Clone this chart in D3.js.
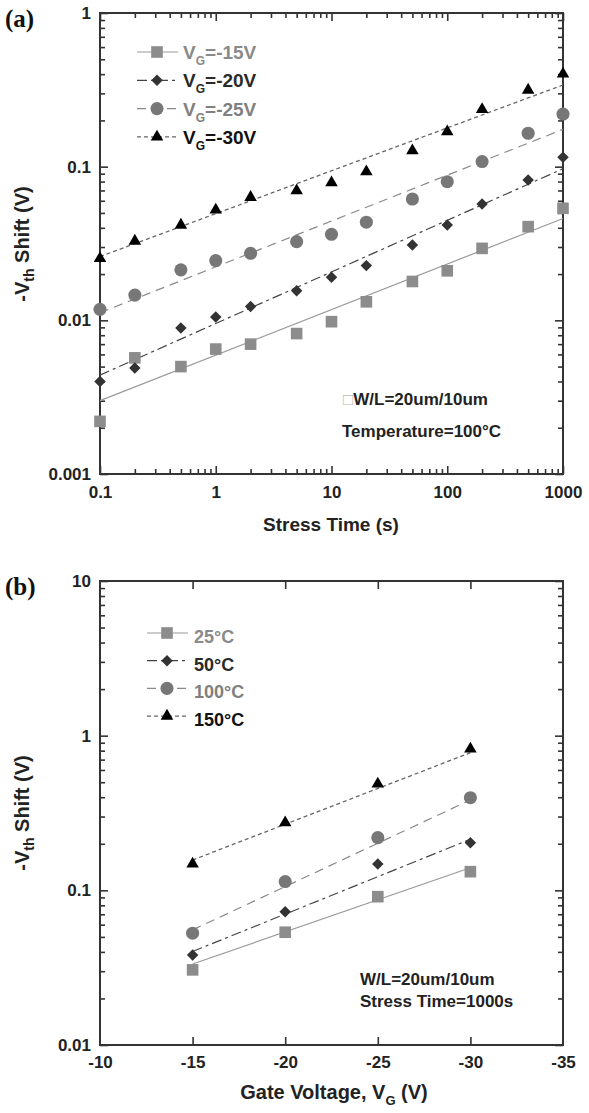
<!DOCTYPE html>
<html>
<head>
<meta charset="utf-8">
<script src="https://cdn.jsdelivr.net/npm/d3@7"></script>
<style>
  body { margin: 0; background: #fff; }
  svg { display: block; }
  text { font-family: "Liberation Sans", Arial, sans-serif; font-weight: bold; }
  .tick text { font-size: 17px; fill: #222; }
  .tick line { stroke: #333; stroke-width: 1.6; }
</style>
</head>
<body>
<div id="chart"></div>
<script>
// ---------------------------------------------------------------
// data, panel (a): -Vth shift vs stress time, T = 100 C
const stressTime = [0.1, 0.2, 0.5, 1, 2, 5, 10, 20, 50, 100, 200, 500, 1000];
const shiftVg15 = [0.0022, 0.0057, 0.0050, 0.0065, 0.0070, 0.0082, 0.0098, 0.0132, 0.0179, 0.021, 0.0294, 0.0407, 0.0536];
const shiftVg20 = [0.0040, 0.0049, 0.0089, 0.0105, 0.0123, 0.0156, 0.0191, 0.0227, 0.0309, 0.0417, 0.0572, 0.0819, 0.115];
const shiftVg25 = [0.0118, 0.0146, 0.0213, 0.0245, 0.0273, 0.0325, 0.0363, 0.0435, 0.0616, 0.0798, 0.108, 0.165, 0.220];
const shiftVg30 = [0.0253, 0.0328, 0.0417, 0.0523, 0.0632, 0.0698, 0.0787, 0.0927, 0.127, 0.169, 0.236, 0.315, 0.401];
// power-law fit lines, value at first and last stress time
const fitTime = [0.1, 1000];
const fitVg15 = [0.0030, 0.046];
const fitVg20 = [0.0044, 0.097];
const fitVg25 = [0.0112, 0.175];
const fitVg30 = [0.0260, 0.340];

// data, panel (b): -Vth shift vs gate voltage, stress 1000 s
const gateVoltage = [-15, -20, -25, -30];
const shiftT25 = [0.0306, 0.0536, 0.091, 0.132];
const shiftT50 = [0.0382, 0.0728, 0.148, 0.203];
const shiftT100 = [0.0528, 0.114, 0.219, 0.397];
const shiftT150 = [0.148, 0.274, 0.487, 0.82];
// exponential fit lines, value at -15 V and -30 V
const fitGate = [-15, -30];
const fitT25 = [0.0334, 0.140];
const fitT50 = [0.0402, 0.214];
const fitT100 = [0.0555, 0.384];
const fitT150 = [0.157, 0.776];

const legendA = ["-15V", "-20V", "-25V", "-30V"];
const legendB = ["25°C", "50°C", "100°C", "150°C"];

const xTicksA = [0.1, 1, 10, 100, 1000];
const yTicksA = [0.001, 0.01, 0.1, 1];
const xTicksB = [-10, -15, -20, -25, -30, -35];
const yTicksB = [0.01, 0.1, 1, 10];

// ---------------------------------------------------------------
// series styling (shared by both panels)
const styles = [
  { shape: "square",   fill: "#8c8c8c", text: "#8a8a8a", stroke: "#9a9a9a", dash: null,        width: 1.2 },
  { shape: "diamond",  fill: "#333333", text: "#2a2a2a", stroke: "#444444", dash: "10,4,3,4",  width: 1.2 },
  { shape: "circle",   fill: "#777777", text: "#808080", stroke: "#8a8a8a", dash: "9,6",       width: 1.2 },
  { shape: "triangle", fill: "#000000", text: "#111111", stroke: "#666666", dash: "4,3",       width: 1.3 }
];

function markerPath(shape) {
  if (shape === "square") return d3.symbol(d3.symbolSquare, 135)();
  if (shape === "diamond") return d3.symbol(d3.symbolSquare, 66)();
  if (shape === "circle") return d3.symbol(d3.symbolCircle, 135)();
  return d3.symbol(d3.symbolTriangle, 68)();
}

function drawMarker(g, shape, x, y, fill) {
  g.append("path")
    .attr("d", markerPath(shape))
    .attr("transform", "translate(" + x + "," + y + ")" + (shape === "diamond" ? " rotate(45)" : ""))
    .attr("fill", fill);
}

const svg = d3.select("#chart").append("svg")
    .attr("width", 589)
    .attr("height", 1113);

// ---------------------------------------------------------------
// generic axes frame with inward ticks on all four sides
function drawFrame(x, y, box, xMajor, xMinor, yMajor, yMinor, xPad, yPad) {
  const fmt = d => String(d);
  const g = svg.append("g");
  g.append("g").attr("transform", "translate(0," + box.bottom + ")")
    .call(d3.axisBottom(x).tickValues(xMajor).tickSize(-8).tickPadding(xPad).tickFormat(fmt));
  g.append("g").attr("transform", "translate(0," + box.top + ")")
    .call(d3.axisTop(x).tickValues(xMajor).tickSize(-8).tickFormat(""));
  g.append("g").attr("transform", "translate(" + box.left + ",0)")
    .call(d3.axisLeft(y).tickValues(yMajor).tickSize(-8).tickPadding(yPad).tickFormat(fmt));
  g.append("g").attr("transform", "translate(" + box.right + ",0)")
    .call(d3.axisRight(y).tickValues(yMajor).tickSize(-8).tickFormat(""));
  if (xMinor.length) {
    g.append("g").attr("transform", "translate(0," + box.bottom + ")")
      .call(d3.axisBottom(x).tickValues(xMinor).tickSize(-5).tickFormat(""));
    g.append("g").attr("transform", "translate(0," + box.top + ")")
      .call(d3.axisTop(x).tickValues(xMinor).tickSize(-5).tickFormat(""));
  }
  g.append("g").attr("transform", "translate(" + box.left + ",0)")
    .call(d3.axisLeft(y).tickValues(yMinor).tickSize(-5).tickFormat(""));
  g.append("g").attr("transform", "translate(" + box.right + ",0)")
    .call(d3.axisRight(y).tickValues(yMinor).tickSize(-5).tickFormat(""));
  g.selectAll(".domain").remove();
  g.selectAll(".tick text").attr("fill", "#222");
  g.append("rect")
    .attr("x", box.left).attr("y", box.top)
    .attr("width", box.right - box.left).attr("height", box.bottom - box.top)
    .attr("fill", "none").attr("stroke", "#333").attr("stroke-width", 2);
  return g;
}

function minorLog(scale) {
  return scale.ticks().filter(v => Math.abs(Math.log10(v) - Math.round(Math.log10(v))) > 1e-6);
}

function yTitle(cx, cy) {
  const t = svg.append("text")
    .attr("transform", "translate(" + cx + "," + cy + ") rotate(-90)")
    .attr("text-anchor", "middle")
    .attr("font-size", 20)
    .attr("fill", "#222");
  t.append("tspan").text("-V");
  t.append("tspan").attr("font-size", 14).attr("dy", 5).text("th");
  t.append("tspan").attr("dy", -5).text(" Shift (V)");
}

function panelLabel(txt, y) {
  svg.append("text").attr("x", 5).attr("y", y)
    .style("font-family", "'Liberation Serif', 'Times New Roman', serif")
    .attr("font-size", 25).attr("fill", "#111").text(txt);
}

// ---------------------------------------------------------------
// panel (a)
const boxA = { left: 100, right: 563, top: 13, bottom: 474 };
const xA = d3.scaleLog().domain([0.1, 1000]).range([boxA.left, boxA.right]);
const yA = d3.scaleLog().domain([0.001, 1]).range([boxA.bottom, boxA.top]);

drawFrame(xA, yA, boxA, xTicksA, minorLog(xA), yTicksA, minorLog(yA), 12, 9);

const seriesA = [shiftVg15, shiftVg20, shiftVg25, shiftVg30];
const fitsA = [fitVg15, fitVg20, fitVg25, fitVg30];
const lineA = d3.line().x(d => xA(d[0])).y(d => yA(d[1]));

fitsA.forEach((fit, i) => {
  const s = styles[i];
  svg.append("path")
    .attr("d", lineA(fitTime.map((t, k) => [t, fit[k]])))
    .attr("fill", "none").attr("stroke", s.stroke)
    .attr("stroke-width", s.width).attr("stroke-dasharray", s.dash);
});
seriesA.forEach((vals, i) => {
  const g = svg.append("g");
  vals.forEach((v, k) => drawMarker(g, styles[i].shape, xA(stressTime[k]), yA(v), styles[i].fill));
});

// legend (a)
legendA.forEach((label, i) => {
  const s = styles[i];
  const yy = 52 + i * 28.3;
  svg.append("line")
    .attr("x1", 137).attr("x2", 178).attr("y1", yy).attr("y2", yy)
    .attr("stroke", s.stroke).attr("stroke-width", s.width).attr("stroke-dasharray", s.dash);
  drawMarker(svg, s.shape, 157, yy, s.fill);
  const t = svg.append("text").attr("x", 183).attr("y", yy + 7)
    .attr("font-size", 19).attr("fill", s.text);
  t.append("tspan").text("V");
  t.append("tspan").attr("font-size", 12).attr("dy", 6).text("G");
  t.append("tspan").attr("dy", -6).text("=" + label);
});

svg.append("text").attr("x", 343).attr("y", 405).attr("font-size", 17).attr("fill", "#222")
  .call(t => {
    t.append("tspan").attr("fill", "#bbb").attr("font-weight", "normal").text("\u25A1");
    t.append("tspan").text("W/L=20um/10um");
  });
svg.append("text").attr("x", 342).attr("y", 437).attr("font-size", 17).attr("fill", "#222")
  .text("Temperature=100°C");

svg.append("text").attr("x", 331).attr("y", 531).attr("text-anchor", "middle")
  .attr("font-size", 19).attr("fill", "#222").text("Stress Time (s)");
yTitle(29, 244);
panelLabel("(a)", 27);

// ---------------------------------------------------------------
// panel (b)
const boxB = { left: 100, right: 563, top: 581, bottom: 1045 };
const xB = d3.scaleLinear().domain([-10, -35]).range([boxB.left, boxB.right]);
const yB = d3.scaleLog().domain([0.01, 10]).range([boxB.bottom, boxB.top]);

drawFrame(xB, yB, boxB, xTicksB.slice(1, -1), [], yTicksB, minorLog(yB), 11, 9);
// corner labels -10 and -35 sit on the frame corners, without tick marks
svg.append("g").attr("transform", "translate(0," + boxB.bottom + ")")
  .call(d3.axisBottom(xB).tickValues([xTicksB[0], xTicksB[xTicksB.length - 1]])
    .tickSize(0).tickPadding(11).tickFormat(d => String(d)))
  .call(g => g.select(".domain").remove())
  .selectAll("text").attr("fill", "#222");

const seriesB = [shiftT25, shiftT50, shiftT100, shiftT150];
const fitsB = [fitT25, fitT50, fitT100, fitT150];
const lineB = d3.line().x(d => xB(d[0])).y(d => yB(d[1]));

fitsB.forEach((fit, i) => {
  const s = styles[i];
  svg.append("path")
    .attr("d", lineB(fitGate.map((v, k) => [v, fit[k]])))
    .attr("fill", "none").attr("stroke", s.stroke)
    .attr("stroke-width", s.width).attr("stroke-dasharray", s.dash);
});
seriesB.forEach((vals, i) => {
  const g = svg.append("g");
  vals.forEach((v, k) => drawMarker(g, styles[i].shape, xB(gateVoltage[k]), yB(v), styles[i].fill));
});

legendB.forEach((label, i) => {
  const s = styles[i];
  const yy = 633 + i * 27.7;
  svg.append("line")
    .attr("x1", 147).attr("x2", 188).attr("y1", yy).attr("y2", yy)
    .attr("stroke", s.stroke).attr("stroke-width", s.width).attr("stroke-dasharray", s.dash);
  drawMarker(svg, s.shape, 167, yy, s.fill);
  svg.append("text").attr("x", 194).attr("y", yy + 10)
    .attr("font-size", 18).attr("fill", s.text).text(label);
});

svg.append("text").attr("x", 360).attr("y", 985).attr("font-size", 17).attr("fill", "#222")
  .text("W/L=20um/10um");
svg.append("text").attr("x", 360).attr("y", 1007).attr("font-size", 17).attr("fill", "#222")
  .text("Stress Time=1000s");

svg.append("text").attr("x", 334).attr("y", 1099).attr("text-anchor", "middle")
  .attr("font-size", 20).attr("fill", "#222")
  .call(t => {
    t.append("tspan").text("Gate Voltage, V");
    t.append("tspan").attr("font-size", 13).attr("dy", 6).text("G");
    t.append("tspan").attr("dy", -6).text(" (V)");
  });
yTitle(29, 813);
panelLabel("(b)", 595);
</script>
</body>
</html>
